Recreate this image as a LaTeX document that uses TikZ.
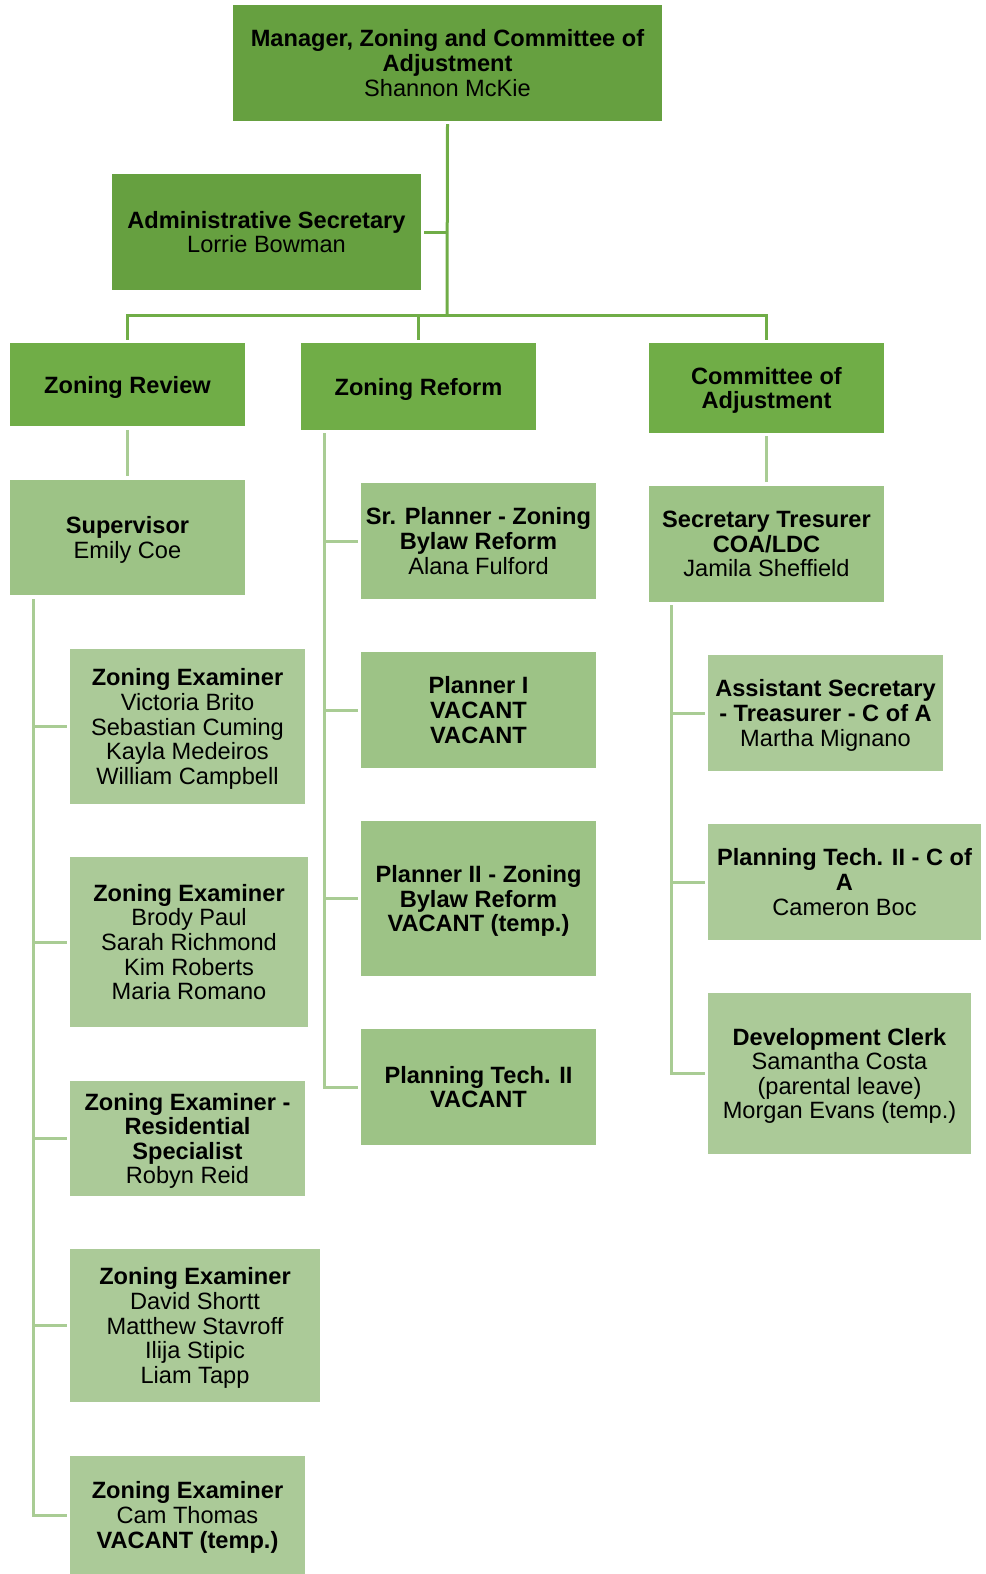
\documentclass[tikz,border=0pt]{standalone}
\usepackage{fontspec}
\setmainfont{Liberation Sans}
\usetikzlibrary{calc}
\definecolor{topg}{HTML}{66A040}
\definecolor{lvtwo}{HTML}{70AD47}
\definecolor{lvthree}{HTML}{9DC386}
\definecolor{lvfour}{HTML}{ABCA98}
\definecolor{cone}{HTML}{70AD47}
\definecolor{ctwo}{HTML}{A9CC94}
\tikzset{
  box/.style={rectangle, draw=none, inner sep=0pt, align=center, font=\fontsize{23.6bp}{24.6bp}\selectfont, text depth=0pt},
  btop/.style={box, fill=topg},
  btwo/.style={box, fill=lvtwo},
  bthree/.style={box, fill=lvthree},
  bfour/.style={box, fill=lvfour},
  lineone/.style={draw=cone, line width=3bp},
  linetwo/.style={draw=ctwo, line width=3bp},
}
\begin{document}
\begin{tikzpicture}[x=1bp,y=-1bp]
\useasboundingbox (0,0) rectangle (985,1574);
% level 1
\node[btop, minimum width=429bp, minimum height=116bp] (mgr) at (447.5,63) {\textbf{Manager, Zoning and Committee of}\\\textbf{Adjustment}\\Shannon McKie};
\node[btop, minimum width=309bp, minimum height=116bp] (adm) at (266.5,232) {\textbf{Administrative Secretary}\\Lorrie Bowman};
% level 2
\node[btwo, minimum width=235bp, minimum height=83bp] (zrev) at (127.5,384.5) {\textbf{Zoning Review}};
\node[btwo, minimum width=235bp, minimum height=87bp] (zref) at (418.5,386.5) {\textbf{Zoning Reform}};
\node[btwo, minimum width=235bp, minimum height=90bp] (coa) at (766.5,388) {\textbf{Committee of}\\\textbf{Adjustment}};
% level 3
\node[bthree, minimum width=235bp, minimum height=115bp] (sup) at (127.5,537.5) {\textbf{Supervisor}\\Emily Coe};
\node[bthree, minimum width=235bp, minimum height=116bp] (srp) at (478.5,541) {\textbf{Sr. Planner - Zoning}\\\textbf{Bylaw Reform}\\Alana Fulford};
\node[bthree, minimum width=235bp, minimum height=116bp] (sec) at (766.5,544) {\textbf{Secretary Tresurer}\\\textbf{COA/LDC}\\Jamila Sheffield};
\node[bthree, minimum width=235bp, minimum height=116bp] (p1) at (478.5,710) {\textbf{Planner I}\\\textbf{VACANT}\\\textbf{VACANT}};
\node[bthree, minimum width=235bp, minimum height=155bp] (p2) at (478.5,898.5) {\textbf{Planner II - Zoning}\\\textbf{Bylaw Reform}\\\textbf{VACANT (temp.)}};
\node[bthree, minimum width=235bp, minimum height=116bp] (pt2) at (478.5,1087) {\textbf{Planning Tech. II}\\\textbf{VACANT}};
% level 4
\node[bfour, minimum width=235bp, minimum height=155bp] (ze1) at (187.5,726.5) {\textbf{Zoning Examiner}\\Victoria Brito\\Sebastian Cuming\\Kayla Medeiros\\William Campbell};
\node[bfour, minimum width=238bp, minimum height=170bp] (ze2) at (189,942) {\textbf{Zoning Examiner}\\Brody Paul\\Sarah Richmond\\Kim Roberts\\Maria Romano};
\node[bfour, minimum width=235bp, minimum height=115bp] (zer) at (187.5,1138.5) {\textbf{Zoning Examiner -}\\\textbf{Residential}\\\textbf{Specialist}\\Robyn Reid};
\node[bfour, minimum width=250bp, minimum height=153bp] (ze4) at (195,1325.5) {\textbf{Zoning Examiner}\\David Shortt\\Matthew Stavroff\\Ilija Stipic\\Liam Tapp};
\node[bfour, minimum width=235bp, minimum height=118bp] (ze5) at (187.5,1515) {\textbf{Zoning Examiner}\\Cam Thomas\\\textbf{VACANT (temp.)}};
\node[bfour, minimum width=235bp, minimum height=116bp] (asst) at (825.5,713) {\textbf{Assistant Secretary}\\\textbf{- Treasurer - C of A}\\Martha Mignano};
\node[bfour, minimum width=273bp, minimum height=116bp] (pt2c) at (844.5,882) {\textbf{Planning Tech. II - C of}\\\textbf{A}\\Cameron Boc};
\node[bfour, minimum width=263bp, minimum height=161bp] (dev) at (839.5,1073.5) {\textbf{Development Clerk}\\Samantha Costa\\(parental leave)\\Morgan Evans (temp.)};
% top connectors
\coordinate (j0) at (447,316);
\draw[lineone] ($(mgr.south)+(0,3)$) -- (j0);
\draw[lineone] ($(adm.east)+(3,0)$) -- (adm.east -| j0);
\draw[lineone] ($(zrev.north)+(0,-3)$) |- ($(coa.north)+(0,-27)$) -- ($(coa.north)+(0,-3)$);
\draw[lineone] ($(zref.north)+(0,-3)$) -- (zref.north |- j0);
% zoning review
\draw[linetwo] ($(zrev.south)+(0,4)$) -- ($(sup.north)+(0,-4)$);
\coordinate (ss) at (33,599);
\draw[linetwo] (ss) |- ($(ze5.west)+(-3,0)$);
\draw[linetwo] (ss |- ze1.west) -- ($(ze1.west)+(-3,0)$);
\draw[linetwo] (ss |- ze2.west) -- ($(ze2.west)+(-3,0)$);
\draw[linetwo] (ss |- zer.west) -- ($(zer.west)+(-3,0)$);
\draw[linetwo] (ss |- ze4.west) -- ($(ze4.west)+(-3,0)$);
% zoning reform
\coordinate (rs) at (324,433);
\draw[linetwo] (rs) |- ($(pt2.west)+(-3,0)$);
\draw[linetwo] (rs |- srp.west) -- ($(srp.west)+(-3,0)$);
\draw[linetwo] (rs |- p1.west) -- ($(p1.west)+(-3,0)$);
\draw[linetwo] (rs |- p2.west) -- ($(p2.west)+(-3,0)$);
% committee
\draw[linetwo] ($(coa.south)+(0,3)$) -- ($(sec.north)+(0,-4)$);
\coordinate (cs) at (671,605);
\draw[linetwo] (cs) |- ($(dev.west)+(-3,0)$);
\draw[linetwo] (cs |- asst.west) -- ($(asst.west)+(-3,0)$);
\draw[linetwo] (cs |- pt2c.west) -- ($(pt2c.west)+(-3,0)$);
\end{tikzpicture}
\end{document}
